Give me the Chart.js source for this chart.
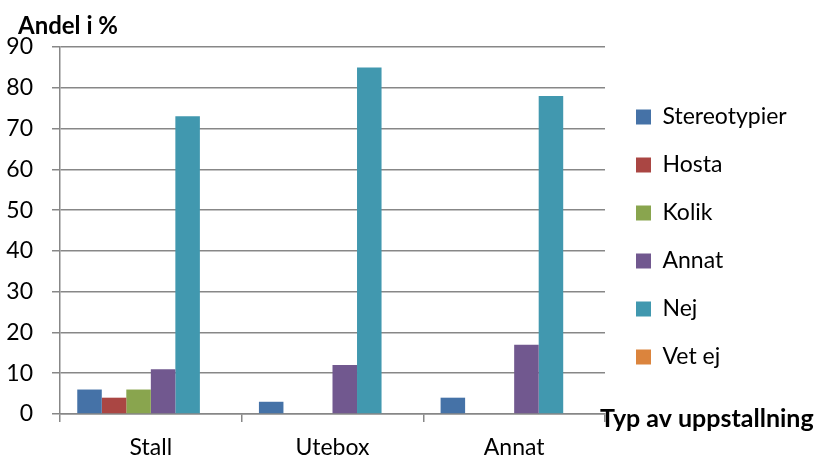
<!DOCTYPE html>
<html>
<head>
<meta charset="utf-8">
<script src="https://cdn.jsdelivr.net/npm/chart.js@4"></script>
<style>
  html, body { margin: 0; padding: 0; background: #ffffff; }
  #wrap { width: 816px; height: 457px; }
</style>
</head>
<body>
<div id="wrap"><canvas id="c" width="816" height="457"></canvas></div>
<script>
// Housing type categories and the share (%) reporting each health problem
const categories = ['Stall', 'Utebox', 'Annat'];
const seriesNames = ['Stereotypier', 'Hosta', 'Kolik', 'Annat', 'Nej', 'Vet ej'];
const stereotypier = [6, 3, 4];
const hosta = [4, 0, 0];
const kolik = [6, 0, 0];
const annat = [11, 12, 17];
const nej = [73, 85, 78];
const vetEj = [0, 0, 0];
const yTickValues = [0, 10, 20, 30, 40, 50, 60, 70, 80, 90];
const seriesColors = ['#4572A7', '#AA4643', '#89A54E', '#71588F', '#4198AF', '#DB843D'];

const yAxisTitle = 'Andel i %';
const xAxisTitle = 'Typ av uppstallning';

const FONT = 'Lato, "Liberation Sans", sans-serif';
const GRID = '#878787';
const LEGEND_WIDTH = 211;

const seriesValues = [stereotypier, hosta, kolik, annat, nej, vetEj];

// Fixed legend column width and small offsets so the legend sits beside the plot
const legendPlacement = {
  id: 'legendPlacement',
  beforeLayout(chart) {
    const lg = chart.legend;
    if (lg && !lg.__fixedWidth) {
      const fit = lg.fit.bind(lg);
      lg.fit = function () { fit(); this.width = LEGEND_WIDTH; };
      lg.__fixedWidth = true;
    }
  },
  afterLayout(chart) {
    const lg = chart.legend;
    if (!lg) return;
    lg.left += 6; lg.right += 6;
    lg.top -= 15; lg.bottom -= 15;
  }
};

// Horizontal axis titles: value title above the plot, category title at the right end of the x axis
const axisTitles = {
  id: 'axisTitles',
  afterDraw(chart) {
    const { ctx, chartArea, scales } = chart;
    ctx.save();
    ctx.fillStyle = '#000';
    ctx.textBaseline = 'alphabetic';
    ctx.textAlign = 'left';
    ctx.font = 'bold 24px ' + FONT;
    ctx.fillText(yAxisTitle, 18, chartArea.top - 13);
    ctx.font = 'bold 25px ' + FONT;
    ctx.fillText(xAxisTitle, chartArea.right - 5, scales.y.getPixelForValue(0) + 13);
    ctx.restore();
  }
};

new Chart(document.getElementById('c'), {
  type: 'bar',
  data: {
    labels: categories,
    datasets: seriesNames.map((name, i) => ({
      label: name,
      data: seriesValues[i],
      backgroundColor: seriesColors[i],
      borderWidth: 0,
      categoryPercentage: 0.81,
      barPercentage: 1.0
    }))
  },
  options: {
    responsive: false,
    animation: false,
    devicePixelRatio: 1,
    layout: { padding: { top: 47, left: 0, right: 0, bottom: 0 } },
    plugins: {
      tooltip: { enabled: false },
      legend: {
        position: 'right',
        align: 'center',
        labels: {
          boxWidth: 15,
          boxHeight: 15,
          padding: 25,
          color: '#000',
          font: { family: FONT, size: 23 }
        }
      }
    },
    scales: {
      x: {
        offset: true,
        grid: { offset: true, drawOnChartArea: false, tickLength: 8, color: GRID, lineWidth: 1.5 },
        border: { color: GRID, width: 1.5 },
        ticks: { padding: 12, color: '#000', font: { family: FONT, size: 23 } },
        afterFit(s) { s.height = 43; }
      },
      y: {
        min: 0,
        max: 90,
        afterBuildTicks(s) { s.ticks = yTickValues.map(v => ({ value: v })); },
        grid: { color: GRID, lineWidth: 1.5, tickLength: 8 },
        border: { color: GRID, width: 1.5 },
        ticks: { padding: 19, color: '#000', font: { family: FONT, size: 23 } },
        afterFit(s) { s.width = 60; }
      }
    }
  },
  plugins: [legendPlacement, axisTitles]
});
</script>
</body>
</html>
